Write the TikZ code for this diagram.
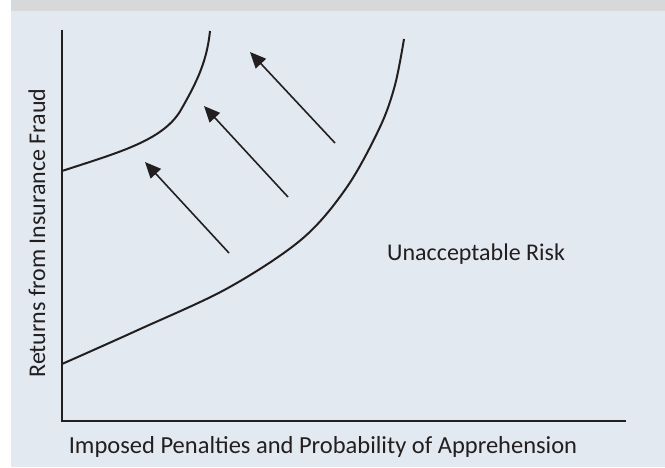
\documentclass[tikz,border=0pt]{standalone}
\usepackage{fontspec}
\setmainfont{Carlito}
\usetikzlibrary{arrows.meta}
\definecolor{bgpanel}{HTML}{E3E9F0}
\definecolor{bgband}{HTML}{D7D8DA}
\definecolor{ink}{HTML}{231F20}
\tikzset{
  axisline/.style={draw=ink, line width=2pt},
  curveline/.style={draw=ink, line width=2pt},
  shiftarrow/.style={draw=ink, line width=1.6pt, -{Triangle[length=16pt,width=14pt]}},
  lbl/.style={text=ink, font=\fontsize{24}{28}\selectfont, inner sep=0pt},
  xlbl/.style={text=ink, font=\fontsize{24.5}{28}\selectfont, inner sep=0pt}
}
\begin{document}
\begin{tikzpicture}[x=1pt,y=-1pt]
\useasboundingbox (0,0) rectangle (665,468);
\fill[white] (0,0) rectangle (665,468);
\fill[bgpanel] (11,0) rectangle (665,467);
\fill[bgband] (11,0) rectangle (665,11);
% axes
\coordinate (ytop) at (62,30);
\coordinate (origin) at (62,421);
\coordinate (xend) at (626,421);
\draw[axisline] (ytop) -- (origin) -- (xend);
% curves
\coordinate (u0) at (62,171); \coordinate (u1) at (182,108); \coordinate (u2) at (210,31);
\draw[curveline] (u0) .. controls (120,152) and (165,140) .. (u1) .. controls (198,80) and (207,60) .. (u2);
\draw[curveline] plot[smooth, tension=0.55] coordinates {(62,364) (138,330) (228,288) (302,239) (347,187) (380,127) (395,85) (404,39)};
% arrows
\coordinate (a1t) at (229,253); \coordinate (a1h) at (145,162);
\coordinate (a2t) at (288,197); \coordinate (a2h) at (204,106);
\coordinate (a3t) at (335,143); \coordinate (a3h) at (250,52);
\draw[shiftarrow] (a1t) -- (a1h);
\draw[shiftarrow] (a2t) -- (a2h);
\draw[shiftarrow] (a3t) -- (a3h);
% labels
\node[lbl, rotate=90] (ylab) at (37,233) {Returns from Insurance Fraud};
\node[lbl, anchor=base west] (risk) at (387,261) {Unacceptable Risk};
\node[xlbl, anchor=base] (xlab) at (323,453) {Imposed Penalties and Probability of Apprehension};
\end{tikzpicture}
\end{document}
